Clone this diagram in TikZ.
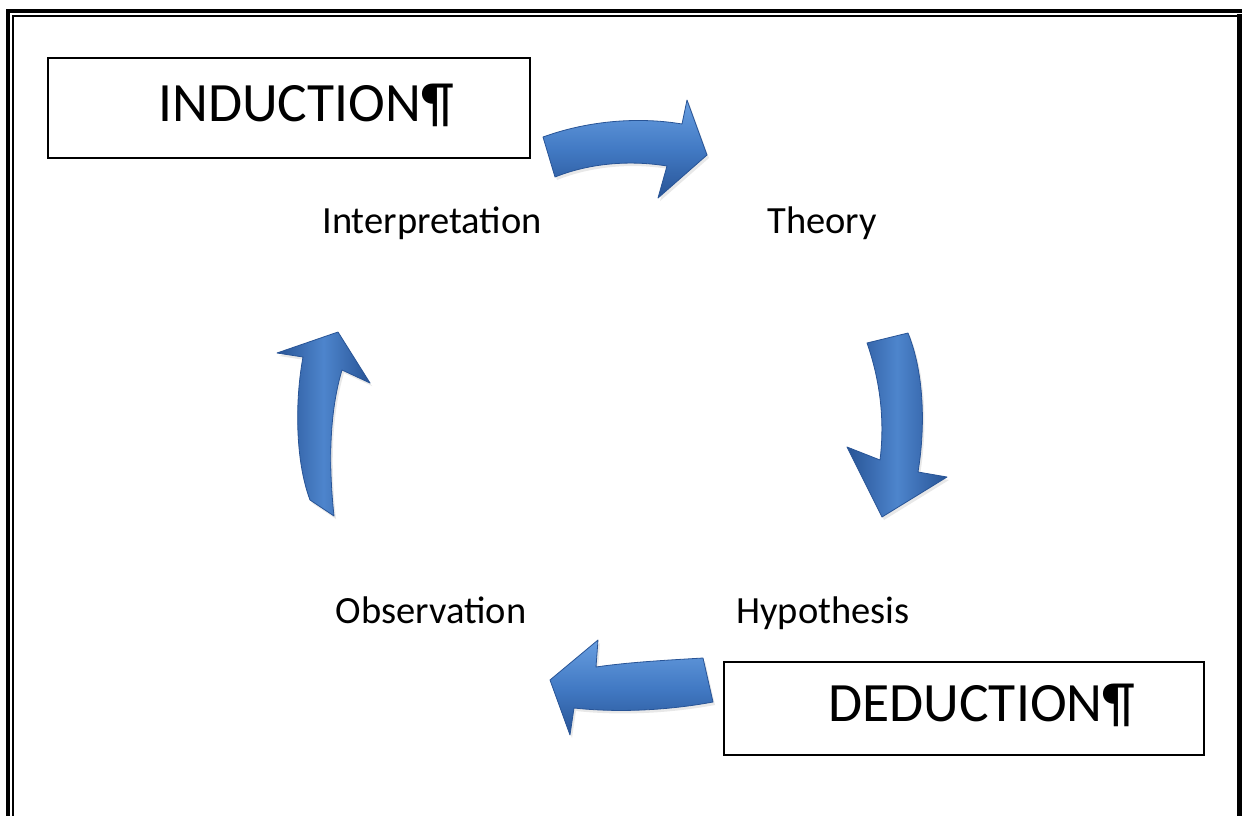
\documentclass[tikz,border=0pt]{standalone}
\usepackage{fontspec}
\setmainfont{Carlito}
\usetikzlibrary{shadows}
\definecolor{arrowmid}{RGB}{66,122,196}
\definecolor{arrowlight}{RGB}{104,158,224}
\definecolor{arrowdark}{RGB}{40,84,150}
\tikzset{
  labeltext/.style={anchor=base, inner sep=0pt, font=\fontsize{38.5}{42}\selectfont},
  bigtext/.style={anchor=base west, inner sep=0pt, font=\fontsize{55.5}{60}\selectfont},
  framebox/.style={draw=black, line width=2.2pt},
  harrow/.style={draw=arrowdark, line width=0.8pt, line join=round,
    top color=arrowlight, bottom color=arrowdark, middle color=arrowmid,
    drop shadow={opacity=0.18, shadow xshift=2pt, shadow yshift=-3pt}},
  varrow/.style={draw=arrowdark, line width=0.8pt, line join=round,
    left color=arrowdark, right color=arrowdark, middle color=arrowmid!70!arrowlight,
    drop shadow={opacity=0.18, shadow xshift=2pt, shadow yshift=-3pt}},
}
\begin{document}
\begin{tikzpicture}[x=1pt, y=-1pt]
\useasboundingbox (0,0) rectangle (1242,816);
\fill[white] (0,0) rectangle (1242,816);
% page border
\draw[line width=4.5pt] (8,816) -- (8,11) -- (1242,11);
\draw[line width=2.2pt] (13,816) -- (13,16) -- (1239,16);
\draw[line width=5pt] (1239.5,14) -- (1239.5,816);
% boxes
\draw[framebox] (48,58) rectangle (530,158);
\node[bigtext] (ind) at (158,121) {INDUCTION¶};
\draw[framebox] (724,662) rectangle (1204,755);
\node[bigtext] (ded) at (828,721) {DEDUCTION¶};
% labels
\node[labeltext] (interp) at (432,233) {Interpretation};
\node[labeltext] (theory) at (822,233) {Theory};
\node[labeltext] (obs) at (431,623) {Observation};
\node[labeltext] (hyp) at (823,623) {Hypothesis};
% arrows
\path[harrow] (543,137) .. controls (590,120) and (640,117) .. (682,124)
  -- (687,100) -- (707,155) -- (658,198) -- (667,166)
  .. controls (630,160) and (590,163) .. (555,177) -- cycle;
\path[varrow] (908,333) .. controls (925,375) and (925,430) .. (918,472)
  -- (947,477) -- (882,517) -- (847,447) -- (880,460)
  .. controls (885,420) and (880,380) .. (867,343) -- cycle;
\path[varrow] (310,500) .. controls (295,460) and (295,400) .. (303,357)
  -- (277,353) -- (338,332) -- (370,383) -- (342,370)
  .. controls (330,410) and (328,460) .. (334,516) -- cycle;
\path[harrow] (703,658) .. controls (670,660) and (630,662) .. (596,667)
  -- (598,640) -- (550,680) -- (570,735) -- (574,708)
  .. controls (620,713) and (670,710) .. (713,702) -- cycle;
\end{tikzpicture}
\end{document}
